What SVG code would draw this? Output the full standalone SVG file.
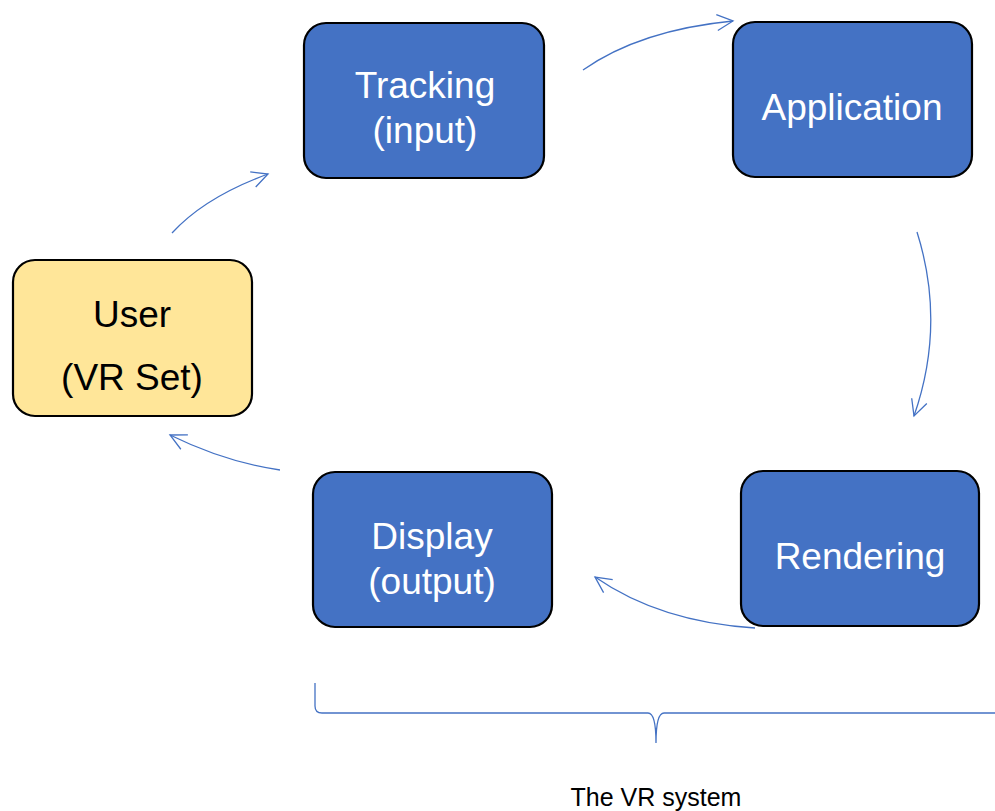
<svg xmlns="http://www.w3.org/2000/svg" width="995" height="811" viewBox="0 0 995 811">
  <style>
    .box { stroke: #000; stroke-width: 2.2; }
    .sys { fill: #4472C4; }
    .usr { fill: #FFE699; }
    .lbl { font-family: "Liberation Sans", Arial, sans-serif; font-size: 37px; text-anchor: middle; }
    .w { fill: #fff; }
    .k { fill: #000; }
    .link { fill: none; stroke: #4472C4; stroke-width: 1.3; }
  </style>
  <defs>
    <marker id="open" viewBox="0 0 20 20" refX="18" refY="10" markerWidth="20" markerHeight="20" markerUnits="userSpaceOnUse" orient="auto">
      <path d="M2,2 L18,10 L2,18" fill="none" stroke="#4472C4" stroke-width="1.3"/>
    </marker>
  </defs>
  <rect width="995" height="811" fill="#fff"/>

  <g id="tracking">
    <rect class="box sys" x="304" y="23" width="240" height="155" rx="22"/>
    <text class="lbl w" x="425" y="98">Tracking</text>
    <text class="lbl w" x="425" y="143">(input)</text>
  </g>
  <g id="application">
    <rect class="box sys" x="733" y="22" width="239" height="155" rx="22"/>
    <text class="lbl w" x="852" y="120">Application</text>
  </g>
  <g id="user">
    <rect class="box usr" x="13" y="260" width="239" height="156" rx="22"/>
    <text class="lbl k" x="132" y="327">User</text>
    <text class="lbl k" x="132" y="390">(VR Set)</text>
  </g>
  <g id="display">
    <rect class="box sys" x="313" y="472" width="239" height="155" rx="22"/>
    <text class="lbl w" x="432" y="549">Display</text>
    <text class="lbl w" x="432" y="594">(output)</text>
  </g>
  <g id="rendering">
    <rect class="box sys" x="741" y="471" width="238" height="155" rx="22"/>
    <text class="lbl w" x="860" y="569">Rendering</text>
  </g>

  <g id="connectors">
    <path class="link" marker-end="url(#open)" d="M172,233 Q205,197 268,174"/>
    <path class="link" marker-end="url(#open)" d="M583,70 Q640,30 733,21"/>
    <path class="link" marker-end="url(#open)" d="M917,232 Q946,324 914,416"/>
    <path class="link" marker-end="url(#open)" d="M755,628 Q660,622 595,577"/>
    <path class="link" marker-end="url(#open)" d="M280,470 Q225,462 170,435"/>
  </g>

  <g id="system-brace">
    <path class="link" d="M315,683 L315,706 Q315,713 322,713 L648,713 Q656,713 656,743 Q656,713 664,713 L995,713"/>
    <text x="656" y="806" font-family="Liberation Sans, Arial, sans-serif" font-size="25" text-anchor="middle" fill="#000">The VR system</text>
  </g>
</svg>
